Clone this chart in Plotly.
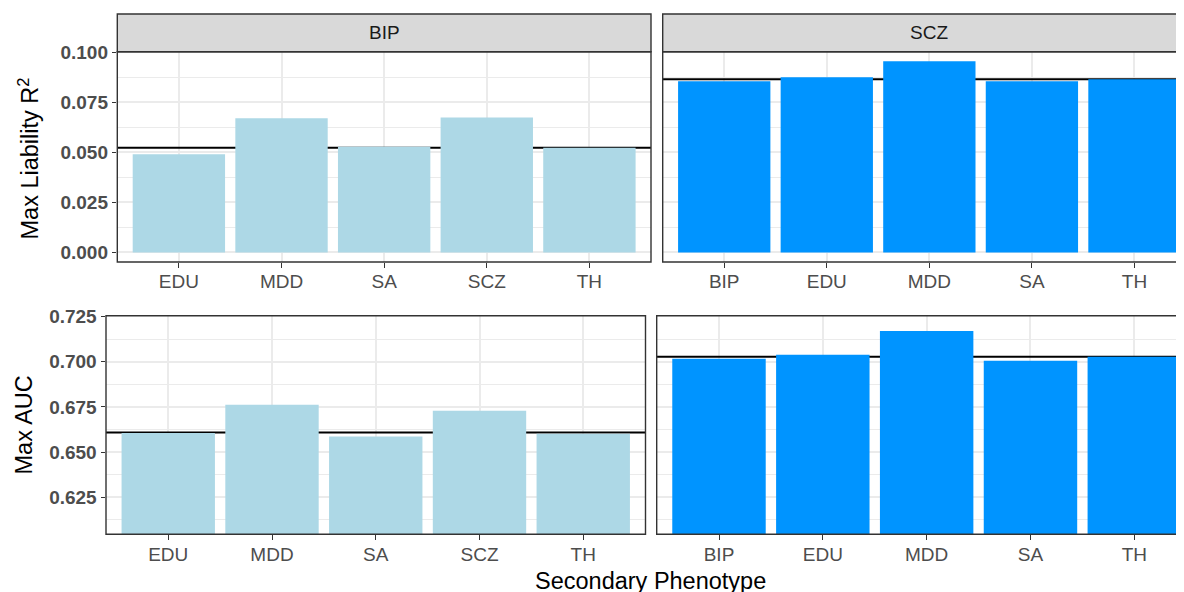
import plotly.graph_objects as go

# ---------------- data ----------------
sec_bip = ["EDU", "MDD", "SA", "SCZ", "TH"]
sec_scz = ["BIP", "EDU", "MDD", "SA", "TH"]
strip_labels = ["BIP", "SCZ"]

r2_bip = [0.0490, 0.0670, 0.0528, 0.0674, 0.0522]
r2_scz = [0.0855, 0.0874, 0.0954, 0.0855, 0.0864]
r2_base = [0.0522, 0.0864]

auc_bip = [0.6606, 0.6762, 0.6586, 0.6729, 0.6602]
auc_scz = [0.7017, 0.7039, 0.7171, 0.7006, 0.7028]
auc_base = [0.6609, 0.7028]

y_title_top = "Max Liability R<sup>2</sup>"
y_title_bot = "Max AUC"
x_title = "Secondary Phenotype"

# ---------------- style ----------------
W, H = 1184, 592
OFF = 8  # default page body margin
FONT = "Liberation Sans, Arial, sans-serif"
LIGHT = "#ADD8E6"
DEEP = "#0094FF"
GRID = "#EBEBEB"
BORDER = "#333333"
TICKC = "#4D4D4D"


def px(x):
    return (x - OFF) / W


def py(y):
    return 1 - (y - OFF) / H


# panel pixel boxes on screen (left, right, top, bottom)
panels = {
    "tl": (117.3, 651.0, 51.7, 262.0),
    "tr": (662.7, 1196.0, 51.7, 262.0),
    "bl": (106.0, 645.5, 315.7, 534.3),
    "br": (656.7, 1196.6, 315.7, 534.3),
}

fig = go.Figure()

specs = [
    ("tl", "x", "y", sec_bip, r2_bip, LIGHT, r2_base[0]),
    ("tr", "x2", "y2", sec_scz, r2_scz, DEEP, r2_base[1]),
    ("bl", "x3", "y3", sec_bip, auc_bip, LIGHT, auc_base[0]),
    ("br", "x4", "y4", sec_scz, auc_scz, DEEP, auc_base[1]),
]

shapes = []
layout_axes = {}
for key, xa, ya, cats, vals, col, base in specs:
    l, r, t, b = panels[key]
    fig.add_trace(go.Bar(x=cats, y=vals, xaxis=xa, yaxis=ya,
                         marker=dict(color=col, line=dict(width=0)),
                         showlegend=False, hoverinfo="x+y"))
    right_px = min(r, W + OFF)
    unit = (r - l) / 5.2
    xmax = 4.6 - (r - right_px) / unit
    xname = "xaxis" if xa == "x" else "xaxis" + xa[1:]
    yname = "yaxis" if ya == "y" else "yaxis" + ya[1:]
    layout_axes[xname] = dict(
        domain=[px(l), min(1.0, px(right_px))], anchor=ya, type="category",
        categoryorder="array", categoryarray=cats,
        range=[-0.6, xmax], showgrid=True, gridcolor=GRID, gridwidth=1.5,
        ticks="outside", ticklen=4.5, tickwidth=1.4, tickcolor=BORDER,
        tickfont=dict(family=FONT, size=19, color=TICKC),
        showline=False, zeroline=False, fixedrange=True, automargin=False,
        ticklabelstandoff=-2,
    )
    top_row = key in ("tl", "tr")
    left_col = key in ("tl", "bl")
    yax = dict(
        domain=[py(b), py(t)], anchor=xa,
        showgrid=True, gridcolor=GRID, gridwidth=1.5, zeroline=False,
        showline=False, fixedrange=True, automargin=False,
        minor=dict(showgrid=True, gridcolor=GRID, gridwidth=0.8),
        tickformat=".3f",
    )
    if top_row:
        yax.update(range=[-0.0048, 0.1002], tick0=0, dtick=0.025)
        yax["minor"].update(dtick=0.0125, tick0=0)
    else:
        yax.update(range=[0.6045, 0.7255], tick0=0.6, dtick=0.025)
        yax["minor"].update(dtick=0.0125, tick0=0.6)
    if left_col:
        yax.update(ticks="outside", ticklen=4.5, tickwidth=1.4, tickcolor=BORDER,
                   showticklabels=True,
                   tickfont=dict(family=FONT, size=19, color=TICKC, weight="bold"))
    else:
        yax.update(ticks="", showticklabels=False)
    layout_axes[yname] = yax

    # reference horizontal line (between grid and bars)
    shapes.append(dict(type="line", xref=xa, yref=ya, x0=-0.6, x1=4.6,
                       y0=base, y1=base, line=dict(color="black", width=2),
                       layer="between"))
    # panel border
    shapes.append(dict(type="rect", xref="paper", yref="paper",
                       x0=px(l), x1=px(r), y0=py(b), y1=py(t),
                       line=dict(color=BORDER, width=1.4),
                       fillcolor="rgba(0,0,0,0)", layer="above"))

annotations = []
# strips for the top row
for key, lab in (("tl", strip_labels[0]), ("tr", strip_labels[1])):
    l, r, t, b = panels[key]
    shapes.append(dict(type="rect", xref="paper", yref="paper",
                       x0=px(l), x1=px(r), y0=py(51.7), y1=py(14.0),
                       fillcolor="#D9D9D9", line=dict(color=BORDER, width=1.4),
                       layer="above"))
    annotations.append(dict(text=lab, xref="paper", yref="paper",
                            x=px((l + r) / 2), y=py(33.0), showarrow=False,
                            xanchor="center", yanchor="middle",
                            font=dict(family=FONT, size=19, color="#1A1A1A")))

annotations.append(dict(text=y_title_top, xref="paper", yref="paper",
                        x=px(28.5), y=py(159), textangle=-90, showarrow=False,
                        xanchor="center", yanchor="middle",
                        font=dict(family=FONT, size=23.5, color="black")))
annotations.append(dict(text=y_title_bot, xref="paper", yref="paper",
                        x=px(23.5), y=py(425), textangle=-90, showarrow=False,
                        xanchor="center", yanchor="middle",
                        font=dict(family=FONT, size=23.5, color="black")))
annotations.append(dict(text=x_title, xref="paper", yref="paper",
                        x=px(650), y=py(580.5), showarrow=False,
                        xanchor="center", yanchor="middle",
                        font=dict(family=FONT, size=23.5, color="black")))

fig.update_layout(
    width=W, height=H,
    margin=dict(l=0, r=0, t=0, b=0, autoexpand=False),
    paper_bgcolor="white", plot_bgcolor="white",
    bargap=0.1, showlegend=False,
    shapes=shapes, annotations=annotations,
    font=dict(family=FONT),
    **layout_axes,
)

fig.write_html("out.html")
